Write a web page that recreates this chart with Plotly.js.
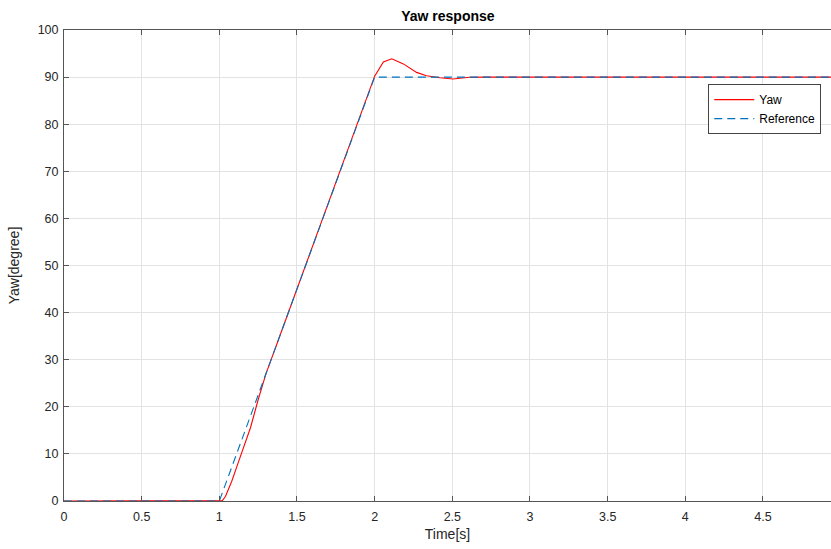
<!DOCTYPE html>
<html>
<head>
<meta charset="utf-8">
<script src="https://cdn.plot.ly/plotly-3.0.1.min.js"></script>
<style>html,body{margin:0;padding:0;background:#fff}#chart{width:831px;height:549px}</style>
</head>
<body>
<div id="chart"></div>
<script>
// Yaw response
const yawTime = [0, 0.5, 1.0, 1.02, 1.04, 1.08, 1.12, 1.15, 1.2, 1.25, 1.3, 1.4, 1.5, 1.6, 1.7, 1.8, 1.9, 2.0, 2.056, 2.11, 2.185, 2.27, 2.334, 2.42, 2.505, 2.61, 2.7, 3.0, 3.5, 4.0, 4.5, 5.0];
const yawValue = [0, 0, 0, 0.1, 1.0, 4.2, 8.0, 10.7, 15.5, 21.5, 27.0, 36.0, 45.0, 54.0, 63.0, 72.0, 81.0, 90.2, 93.2, 93.9, 92.8, 91.0, 90.3, 89.85, 89.6, 89.97, 90.0, 90.0, 90.0, 90.0, 90.0, 90.0];
const refTime = [0, 1.0, 2.0, 5.0];
const refValue = [0, 0, 90, 90];
const xTicks = [0, 0.5, 1, 1.5, 2, 2.5, 3, 3.5, 4, 4.5];
const xTickLabels = ["0", "0.5", "1", "1.5", "2", "2.5", "3", "3.5", "4", "4.5"];
const yTicks = [0, 10, 20, 30, 40, 50, 60, 70, 80, 90, 100];

const font = "Liberation Sans, Arial, Helvetica, sans-serif";
const axisCol = "#262626";

const traces = [
  {x: yawTime, y: yawValue, name: "Yaw", mode: "lines", type: "scatter",
   line: {color: "#ff0000", width: 1.1}},
  {x: refTime, y: refValue, name: "Reference", mode: "lines", type: "scatter",
   line: {color: "#0072BD", width: 1.1, dash: "8px,5px"}}
];

const layout = {
  width: 831, height: 549,
  margin: {l: 64, r: 0, t: 30, b: 48},
  paper_bgcolor: "#fff", plot_bgcolor: "#fff",
  font: {family: font, size: 12, color: axisCol},
  title: {text: "<b>Yaw response</b>", font: {family: font, size: 14, color: "#000"}, x: 0.539, xanchor: "center", y: 0.971, yanchor: "middle"},
  xaxis: {
    range: [0, 4.938], tickvals: xTicks, ticktext: xTickLabels,
    showgrid: true, gridcolor: "#e3e3e3", zeroline: false,
    showline: true, linecolor: "#555", linewidth: 1, mirror: "ticks",
    ticks: "inside", ticklen: 5, tickcolor: "#555",
    ticklabelstandoff: 4,
    tickfont: {size: 12.5, color: axisCol},
    title: {text: "Time[s]", font: {size: 14, color: axisCol}, standoff: 6}
  },
  yaxis: {
    range: [0, 100], tickvals: yTicks,
    showgrid: true, gridcolor: "#e3e3e3", zeroline: false,
    showline: true, linecolor: "#555", linewidth: 1, mirror: false,
    ticks: "inside", ticklen: 5, tickcolor: "#555",
    ticklabelstandoff: 2,
    tickfont: {size: 12.5, color: axisCol},
    title: {text: "Yaw[degree]", font: {size: 14, color: axisCol}, standoff: 14}
  },
  showlegend: true,
  legend: {x: 0.84, y: 0.885, xanchor: "left", yanchor: "top",
    bgcolor: "#fff", bordercolor: "#444", borderwidth: 1,
    font: {size: 12, color: "#000"}, tracegroupgap: 0, itemwidth: 40}
};

Plotly.newPlot("chart", traces, layout, {displayModeBar: false, staticPlot: true});
</script>
</body>
</html>
